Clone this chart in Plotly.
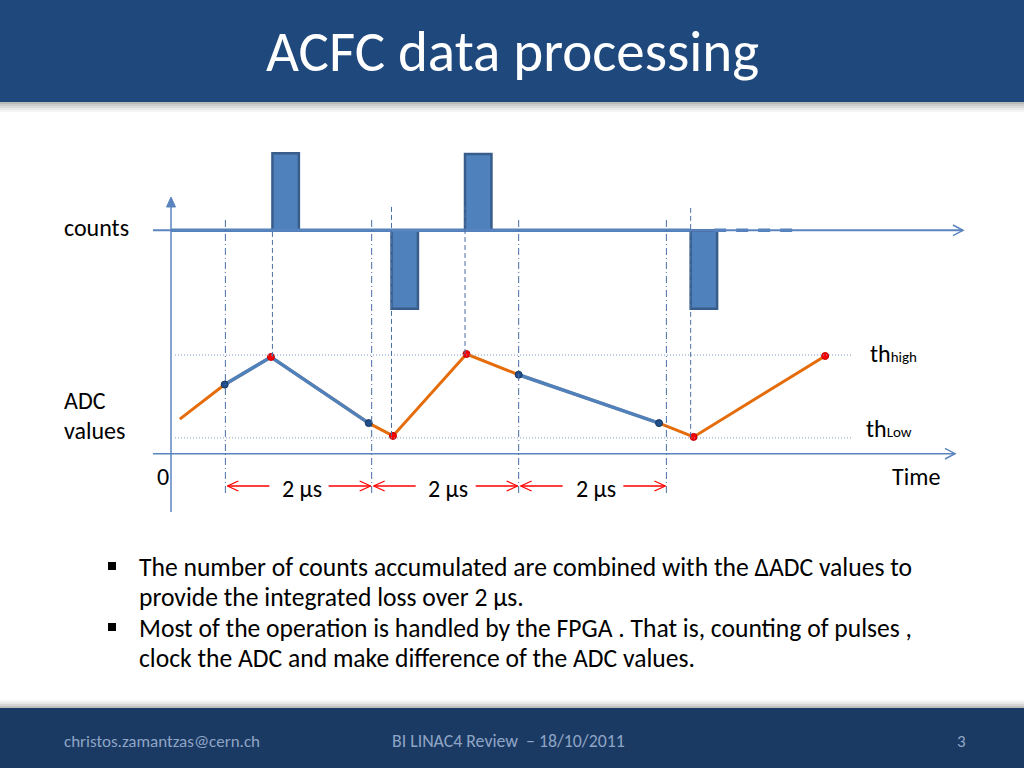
import plotly.graph_objects as go

W, H = 1024, 768

# ---------------- data ----------------
ADC_T = [0.12, 0.73, 1.36, 2.69, 3.02, 4.02, 4.73, 6.64, 7.11, 8.90]   # time, µs
ADC_V = [35, 70, 98, 31, 18, 101, 80, 31, 17, 99]                        # ADC value (a.u.)
SAMPLE_IDX = [1, 3, 6, 7]          # clocked ADC samples (blue dots)
CROSS_IDX = [2, 4, 5, 8, 9]        # threshold crossings (red dots)
BLUE_RUNS = [[1, 2, 3], [6, 7]]    # segments drawn in blue
CLOCK_T = [0.74, 2.73, 4.73, 6.74]         # 2 µs acquisition clock
PULSE_T = [1.38, 3.00, 4.00, 7.07]         # pulse start times, µs
PULSE_V = [1.0, -1.02, 0.99, -1.02]        # counts pulses
PULSE_W = 0.36                             # pulse duration, µs
COUNT_DASH_T = [7.39, 8.49]                # dashed continuation of count line
TH_HIGH = 100
TH_LOW = 16
INTERVAL_LABEL = "2 µs"

TITLE = "ACFC data processing"
BULLETS = [
    ["The number of counts accumulated are combined with the ΔADC values to",
     "provide the integrated loss over 2 µs."],
    ["Most of the operation is handled by the FPGA . That is, counting of pulses ,",
     "clock the ADC and make difference of the ADC values."],
]
FOOTER = ["christos.zamantzas@cern.ch", "BI LINAC4 Review  – 18/10/2011", "3"]

# ---------------- page calibration (pixels) ----------------
X0_PX, PX_PER_US = 171.0, 73.5
ADC0_PX, PX_PER_ADC = 453.7, 0.987
CNT0_PX, PX_PER_CNT = 230.3, 77.0

FONT = "Carlito, Lato, sans-serif"
BLUE = "#4F81BD"
AXBLUE = "#5B84BE"
GUIDE = "#4A6FA5"
ORANGE = "#E46C0A"


def px(x):
    return x / W


def py(y):
    return 1 - y / H


def t_of(xpx):
    return (xpx - X0_PX) / PX_PER_US


def adc_paper(v):
    return py(ADC0_PX - v * PX_PER_ADC)


def cnt_paper(c):
    return py(CNT0_PX - c * PX_PER_CNT)


fig = go.Figure()
shapes = []
annots = []

# ---------------- header / footer ----------------
shapes.append(dict(type="rect", xref="paper", yref="paper", x0=0, x1=1, y0=py(102), y1=1,
                   fillcolor="#1F497D", line_width=0, layer="below"))
for i, op in enumerate([0.55, 0.4, 0.28, 0.17, 0.08]):
    shapes.append(dict(type="rect", xref="paper", yref="paper", x0=0, x1=1,
                       y0=py(102 + 2 * (i + 1)), y1=py(102 + 2 * i),
                       fillcolor="#7F7F7F", opacity=op, line_width=0, layer="below"))
shapes.append(dict(type="rect", xref="paper", yref="paper", x0=0, x1=1, y0=0, y1=py(708),
                   fillcolor="#1B3A63", line_width=0, layer="below"))
for i, op in enumerate([0.5, 0.32, 0.18, 0.08]):
    shapes.append(dict(type="rect", xref="paper", yref="paper", x0=0, x1=1,
                       y0=py(708 - 2 * i), y1=py(708 - 2 * (i + 1)),
                       fillcolor="#7F7F7F", opacity=op, line_width=0, layer="below"))

annots.append(dict(text=TITLE, xref="paper", yref="paper", x=px(512), y=py(51),
                   xanchor="center", yanchor="middle", showarrow=False,
                   font=dict(family=FONT, size=57, color="white")))
for txt, xx, sz in zip(FOOTER, [62, 390, 955], [17, 17.8, 17]):
    annots.append(dict(text=txt, xref="paper", yref="paper", x=px(xx), y=py(741),
                       xanchor="left", yanchor="middle", showarrow=False,
                       font=dict(family=FONT, size=sz, color="#8FA5C6")))

# ---------------- bullets ----------------
line_y = [[567, 597], [628, 658]]
for lines, ys in zip(BULLETS, line_y):
    shapes.append(dict(type="rect", xref="paper", yref="paper", x0=px(108), x1=px(116),
                       y0=py(ys[0] + 3), y1=py(ys[0] - 5), fillcolor="black", line_width=0))
    for txt, yy in zip(lines, ys):
        annots.append(dict(text=txt, xref="paper", yref="paper", x=px(137), y=py(yy),
                           xanchor="left", yanchor="middle", showarrow=False,
                           font=dict(family=FONT, size=25.6, color="black")))

# ---------------- diagram axes ----------------
# vertical axis with filled arrow head
shapes.append(dict(type="line", xref="x", yref="paper", x0=0, x1=0, y0=py(512), y1=py(205),
                   line=dict(color=AXBLUE, width=1.5)))
shapes.append(dict(type="path", xref="paper", yref="paper",
                   path=f"M {px(X0_PX-4.5)} {py(207)} L {px(X0_PX)} {py(197)} L {px(X0_PX+4.5)} {py(207)} Z",
                   fillcolor=AXBLUE, line=dict(color=AXBLUE, width=1)))
# time axis (ADC = 0) and counts baseline (counts = 0)
for yref, yv, xend, lw in [("y", 0, 955, 1.5), ("y2", 0, 963, 2)]:
    shapes.append(dict(type="line", xref="x", yref=yref, x0=t_of(153), x1=t_of(xend), y0=yv, y1=yv,
                       line=dict(color=AXBLUE, width=lw)))
    yp = adc_paper(0) if yref == "y" else cnt_paper(0)
    shapes.append(dict(type="path", xref="paper", yref="paper",
                       path=f"M {px(xend-10)} {yp + 5.3/H} L {px(xend)} {yp} L {px(xend-10)} {yp - 5.3/H}",
                       line=dict(color=AXBLUE, width=1.5)))

# threshold lines
for th in [TH_HIGH, TH_LOW]:
    shapes.append(dict(type="line", xref="x", yref="y", x0=t_of(175), x1=t_of(853), y0=th, y1=th,
                       line=dict(color="#7F9CC4", width=1, dash="1px,2px")))

# clock lines (dash-dot)
for c in CLOCK_T:
    shapes.append(dict(type="line", xref="x", yref="paper", x0=c, x1=c, y0=py(493), y1=py(220),
                       line=dict(color=GUIDE, width=1, dash="7px,3px,1px,3px")))

# pulse edge lines (dashed) down to the matching threshold crossing
pulse_cross = [2, 4, 5, 8]
for k, (pt, ci) in enumerate(zip(PULSE_T, pulse_cross)):
    top = cnt_paper(0) if k == 0 else py(206)
    shapes.append(dict(type="line", xref="x", yref="paper", x0=pt, x1=pt,
                       y0=adc_paper(ADC_V[ci]), y1=top,
                       line=dict(color=GUIDE, width=1, dash="5px,3px")))

# ---------------- counts ----------------
fig.add_trace(go.Scatter(x=[0, PULSE_T[-1]], y=[0, 0], yaxis="y2", mode="lines",
                         line=dict(color=BLUE, width=3.5), hoverinfo="skip"))
fig.add_trace(go.Scatter(x=COUNT_DASH_T, y=[0, 0], yaxis="y2", mode="lines",
                         line=dict(color=BLUE, width=3.5, dash="12px,10px"), hoverinfo="skip"))
fig.add_trace(go.Bar(x=PULSE_T, y=PULSE_V, base=0, width=PULSE_W, offset=0, yaxis="y2",
                     marker=dict(color=BLUE, line=dict(color="#385D8A", width=2.5))))

# ---------------- ADC values ----------------
fig.add_trace(go.Scatter(x=ADC_T, y=ADC_V, mode="lines", line=dict(color=ORANGE, width=3)))
for run in BLUE_RUNS:
    fig.add_trace(go.Scatter(x=[ADC_T[i] for i in run], y=[ADC_V[i] for i in run], mode="lines",
                             line=dict(color=BLUE, width=3.5)))
fig.add_trace(go.Scatter(x=[ADC_T[i] for i in SAMPLE_IDX], y=[ADC_V[i] for i in SAMPLE_IDX],
                         mode="markers", marker=dict(color="#1F4E8C", size=7,
                                                     line=dict(color="#17375E", width=1))))
fig.add_trace(go.Scatter(x=[ADC_T[i] for i in CROSS_IDX], y=[ADC_V[i] for i in CROSS_IDX],
                         mode="markers", marker=dict(color="#FF0000", size=7,
                                                     line=dict(color="#C00000", width=1))))

# ---------------- 2 µs interval arrows ----------------
arrow_v = (ADC0_PX - 486) / PX_PER_ADC
dx = 11 / PX_PER_US
dy = 5 / PX_PER_ADC
ax, ay = [], []
for c0, c1 in zip(CLOCK_T[:-1], CLOCK_T[1:]):
    lt, ltail = c0 + 2 / PX_PER_US, c0 + 44 / PX_PER_US
    rt, rtail = c1 - 1 / PX_PER_US, c1 - 43 / PX_PER_US
    ax += [ltail, lt, None, lt + dx, lt, lt + dx, None,
           rtail, rt, None, rt - dx, rt, rt - dx, None]
    ay += [arrow_v, arrow_v, None, arrow_v + dy, arrow_v, arrow_v - dy, None,
           arrow_v, arrow_v, None, arrow_v + dy, arrow_v, arrow_v - dy, None]
    annots.append(dict(text=INTERVAL_LABEL, xref="x", yref="y", x=(c0 + c1) / 2 + 3 / PX_PER_US,
                       y=arrow_v - 2 / PX_PER_ADC, xanchor="center", yanchor="middle",
                       showarrow=False, font=dict(family=FONT, size=24, color="black")))
fig.add_trace(go.Scatter(x=ax, y=ay, mode="lines", line=dict(color="#FF0000", width=1.3),
                         connectgaps=False, hoverinfo="skip"))

# ---------------- diagram labels ----------------
labels = [("counts", 62, 227), ("ADC", 62, 400), ("values", 62, 430), ("0", 155, 476),
          ("Time", 890, 476),
          ("th<span style='font-size:15px'>high</span>", 868, 353),
          ("th<span style='font-size:15px'>Low</span>", 864, 428)]
for txt, xx, yy in labels:
    annots.append(dict(text=txt, xref="paper", yref="paper", x=px(xx), y=py(yy),
                       xanchor="left", yanchor="middle", showarrow=False,
                       font=dict(family=FONT, size=24, color="black")))

hidden = dict(visible=False, showgrid=False, zeroline=False, fixedrange=True)
fig.update_layout(
    width=W, height=H, margin=dict(l=0, r=0, t=0, b=0),
    paper_bgcolor="white", plot_bgcolor="white", showlegend=False,
    xaxis=dict(domain=[0, 1], range=[t_of(0), t_of(W)], **hidden),
    yaxis=dict(domain=[0, 1], range=[(ADC0_PX - H) / PX_PER_ADC, ADC0_PX / PX_PER_ADC], **hidden),
    yaxis2=dict(domain=[0, 1], overlaying="y", range=[(CNT0_PX - H) / PX_PER_CNT, CNT0_PX / PX_PER_CNT],
                **hidden),
    shapes=shapes, annotations=annots,
)

fig.write_html("out.html", config={"displayModeBar": False},
               post_script="document.body.style.margin='0';document.body.style.overflow='hidden';")
